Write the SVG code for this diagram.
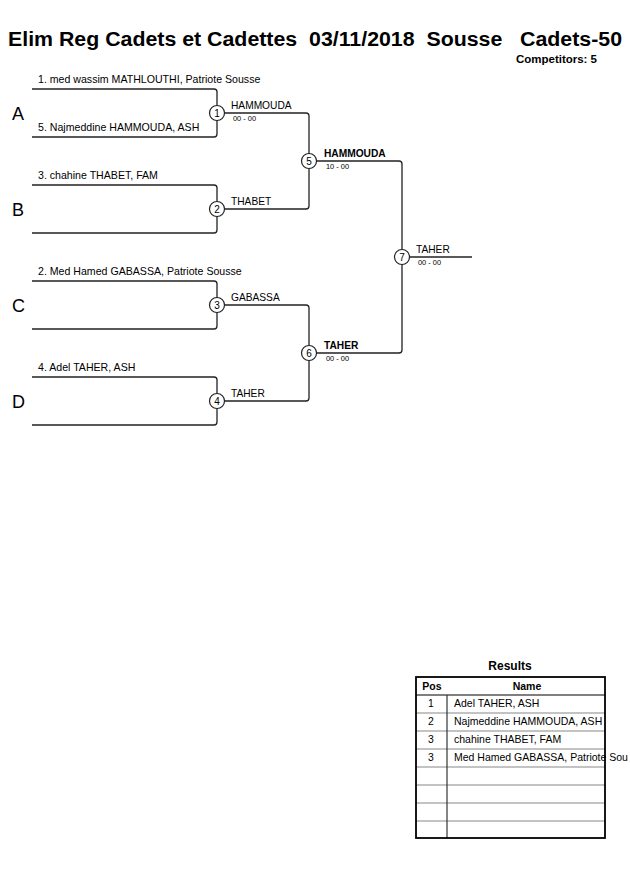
<svg xmlns="http://www.w3.org/2000/svg" width="630" height="891" viewBox="0 0 630 891">
<style>
text{font-family:"Liberation Sans",Arial,sans-serif;fill:#000}
.title{font-size:20px;font-weight:bold;white-space:pre}
.comp{font-size:11px;font-weight:bold}
.name{font-size:10.6px}
.lbl{font-size:10.2px}
.lblb{font-size:10.2px;font-weight:bold}
.sc{font-size:7.4px}
.pool{font-size:18px}
.num{font-size:10px;text-anchor:middle}
.ln{fill:none;stroke:#222;stroke-width:1.3}
.c{fill:#fff;stroke:#222;stroke-width:1.2}
.res{font-size:12px;font-weight:bold;text-anchor:middle}
.th{font-size:10.5px;font-weight:bold;text-anchor:middle}
.td{font-size:10.5px}
.tdc{font-size:10.4px;text-anchor:middle}
.grid{stroke:#888;stroke-width:1.2}
</style>
<text class="title" x="8" y="46" textLength="614" lengthAdjust="spacingAndGlyphs">Elim Reg Cadets et Cadettes  03/11/2018  Sousse   Cadets-50</text>
<text class="comp" x="516" y="63" textLength="81" lengthAdjust="spacingAndGlyphs">Competitors: 5</text>

<g id="connectors">
<path class="ln" d="M32,89 H214 Q217,89 217,92 V134 Q217,137 214,137 H32"/>
<path class="ln" d="M32,185 H214 Q217,185 217,188 V230 Q217,233 214,233 H32"/>
<path class="ln" d="M32,281 H214 Q217,281 217,284 V326 Q217,329 214,329 H32"/>
<path class="ln" d="M32,377 H214 Q217,377 217,380 V422 Q217,425 214,425 H32"/>
<path class="ln" d="M217,113 H306 Q309,113 309,116 V206 Q309,209 306,209 H217"/>
<path class="ln" d="M217,305 H306 Q309,305 309,308 V398 Q309,401 306,401 H217"/>
<path class="ln" d="M309,161 H399 Q402,161 402,164 V350 Q402,353 399,353 H309"/>
<path class="ln" d="M402,257 H472"/>
</g>

<g id="poolA">
<text class="pool" x="12" y="120">A</text>
<text class="name" x="38" y="83">1. med wassim MATHLOUTHI, Patriote Sousse</text>
<text class="name" x="38" y="131">5. Najmeddine HAMMOUDA, ASH</text>
</g>
<g id="poolB">
<text class="pool" x="12" y="216">B</text>
<text class="name" x="38" y="179">3. chahine THABET, FAM</text>
</g>
<g id="poolC">
<text class="pool" x="12" y="312">C</text>
<text class="name" x="38" y="275">2. Med Hamed GABASSA, Patriote Sousse</text>
</g>
<g id="poolD">
<text class="pool" x="12" y="408">D</text>
<text class="name" x="38" y="371">4. Adel TAHER, ASH</text>
</g>

<g id="m1"><circle class="c" cx="217" cy="113" r="7.5"/><text class="num" x="217" y="116.5">1</text>
<text class="lbl" x="231" y="109">HAMMOUDA</text><text class="sc" x="233" y="121">00 - 00</text></g>
<g id="m2"><circle class="c" cx="217" cy="209" r="7.5"/><text class="num" x="217" y="212.5">2</text>
<text class="lbl" x="231" y="205">THABET</text></g>
<g id="m3"><circle class="c" cx="217" cy="305" r="7.5"/><text class="num" x="217" y="308.5">3</text>
<text class="lbl" x="231" y="301">GABASSA</text></g>
<g id="m4"><circle class="c" cx="217" cy="401" r="7.5"/><text class="num" x="217" y="404.5">4</text>
<text class="lbl" x="231" y="397">TAHER</text></g>
<g id="m5"><circle class="c" cx="309" cy="161" r="7.5"/><text class="num" x="309" y="164.5">5</text>
<text class="lblb" x="324" y="157">HAMMOUDA</text><text class="sc" x="326" y="169">10 - 00</text></g>
<g id="m6"><circle class="c" cx="309" cy="353" r="7.5"/><text class="num" x="309" y="356.5">6</text>
<text class="lblb" x="324" y="349">TAHER</text><text class="sc" x="326" y="361">00 - 00</text></g>
<g id="m7"><circle class="c" cx="402" cy="257" r="7.5"/><text class="num" x="402" y="260.5">7</text>
<text class="lbl" x="416" y="253">TAHER</text><text class="sc" x="418" y="265">00 - 00</text></g>

<g id="results">
<text class="res" x="510" y="670">Results</text>
<g class="grid">
<line x1="416" y1="713" x2="605" y2="713"/>
<line x1="416" y1="731" x2="605" y2="731"/>
<line x1="416" y1="749" x2="605" y2="749"/>
<line x1="416" y1="767" x2="605" y2="767"/>
<line x1="416" y1="785" x2="605" y2="785"/>
<line x1="416" y1="803" x2="605" y2="803"/>
<line x1="416" y1="821" x2="605" y2="821"/>
</g>
<line x1="416" y1="695" x2="605" y2="695" stroke="#555" stroke-width="1.3"/>
<line x1="447" y1="695" x2="447" y2="838" stroke="#333" stroke-width="1.2"/>
<rect x="416" y="677" width="189" height="161" fill="none" stroke="#000" stroke-width="1.8"/>
<text class="th" x="432" y="690">Pos</text>
<text class="th" x="527" y="690">Name</text>
<text class="tdc" x="431" y="707">1</text><text class="td" x="454" y="707">Adel TAHER, ASH</text>
<text class="tdc" x="431" y="725">2</text><text class="td" x="454" y="725">Najmeddine HAMMOUDA, ASH</text>
<text class="tdc" x="431" y="743">3</text><text class="td" x="454" y="743">chahine THABET, FAM</text>
<text class="tdc" x="431" y="761">3</text><text class="td" x="454" y="761">Med Hamed GABASSA, Patriote Sou</text>
</g>
</svg>
